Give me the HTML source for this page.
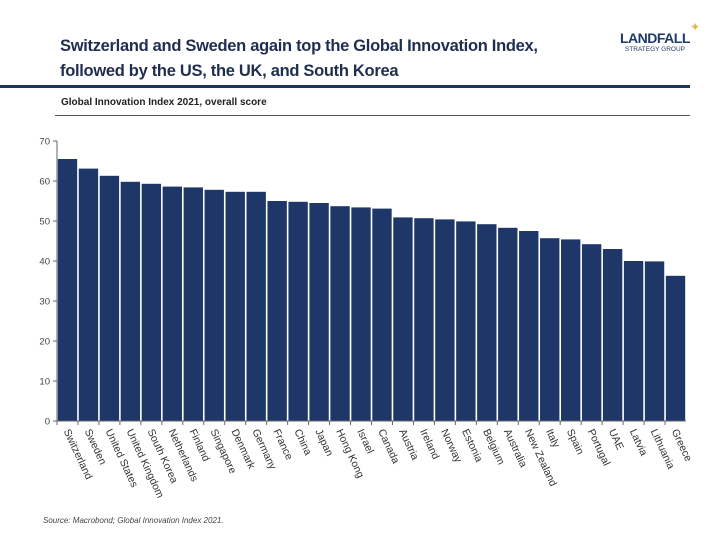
<!DOCTYPE html>
<html><head><meta charset="utf-8"><style>
body{margin:0;background:#fff;}
#wrap{position:relative;width:720px;height:540px;overflow:hidden;font-family:"Liberation Sans",sans-serif;}
.t{position:absolute;color:#1f2e50;}
</style></head><body>
<div id="wrap">
<div class="t" style="left:60px;top:34px;font-size:16.5px;line-height:25px;font-weight:bold;color:#1f2e4f;letter-spacing:-0.3px">Switzerland and Sweden again top the Global Innovation Index,<br>followed by the US, the UK, and South Korea</div>
<div class="t" style="left:620px;top:30px;text-align:center;">
<div style="font-size:14px;font-weight:bold;color:#1f3a68;letter-spacing:-0.5px">LANDFALL</div>
<div style="font-size:6.5px;color:#1f3a68;margin-top:0px">STRATEGY GROUP</div>
<div style="position:absolute;left:70px;top:-10px;color:#e2b64a;font-size:12px">✦</div>
</div>
<div style="position:absolute;left:0;top:85px;width:690px;height:3px;background:#1f3560"></div>
<div class="t" style="left:61px;top:97px;font-size:10px;font-weight:bold;color:#222">Global Innovation Index 2021, overall score</div>
<div style="position:absolute;left:55px;top:115px;width:635px;height:1px;background:#555"></div>
<svg id="svg" width="720" height="540" style="position:absolute;left:0;top:0"></svg>
<div class="t" style="left:43px;top:516px;font-size:8px;font-style:italic;color:#444">Source: Macrobond;  Global Innovation Index 2021.</div>
</div>
<script>
const categories=["Switzerland","Sweden","United States","United Kingdom","South Korea","Netherlands","Finland","Singapore","Denmark","Germany","France","China","Japan","Hong Kong","Israel","Canada","Austria","Ireland","Norway","Estonia","Belgium","Australia","New Zealand","Italy","Spain","Portugal","UAE","Latvia","Lithuania","Greece"];
const scores=[65.5,63.1,61.3,59.8,59.3,58.6,58.4,57.8,57.3,57.3,55.0,54.8,54.5,53.7,53.4,53.1,50.9,50.7,50.4,49.9,49.2,48.3,47.5,45.7,45.4,44.2,43.0,40.0,39.9,36.3];
const yTicks=[0,10,20,30,40,50,60,70];
const NS="http://www.w3.org/2000/svg",svg=document.getElementById('svg');
const x0=57,x1=686,yb=421,yt=141,ymax=70;
const step=(x1-x0)/categories.length;
const Y=v=>yb-(v/ymax)*(yb-yt);
const X=i=>x0+i*step;
function mk(t,a){const e=document.createElementNS(NS,t);for(const k in a)e.setAttribute(k,a[k]);svg.appendChild(e);return e;}
scores.forEach((v,i)=>{
 const r=mk('rect',{x:X(i)+0.8,y:Y(v),width:step-1.6,height:yb-Y(v),fill:'#1f3768'});
 
 
 const cx=X(i)+step/2;
 const tk=mk('line',{x1:X(i),x2:X(i),y1:yb,y2:yb+4,stroke:'#666'});
 
 
 const t=mk('text',{x:cx-4,y:yb+10,'font-size':'10.5','fill':'#333','font-family':'Liberation Sans, sans-serif',transform:`rotate(65 ${cx-4} ${yb+10})`});
 t.textContent=categories[i];
 
 
});
const ax=mk('line',{x1:x0,x2:x0,y1:yt,y2:yb,stroke:'#666'});


const bx=mk('line',{x1:x0,x2:x1,y1:yb,y2:yb,stroke:'#666'});


yTicks.forEach(v=>{
 const l=mk('line',{x1:x0-4,x2:x0,y1:Y(v),y2:Y(v),stroke:'#666'});
 
 
 const t=mk('text',{x:x0-7,y:Y(v)+3.5,'font-size':'9.5','fill':'#444','text-anchor':'end','font-family':'Liberation Sans, sans-serif'});
 t.textContent=v;
 
 
});
</script>
</body></html>
